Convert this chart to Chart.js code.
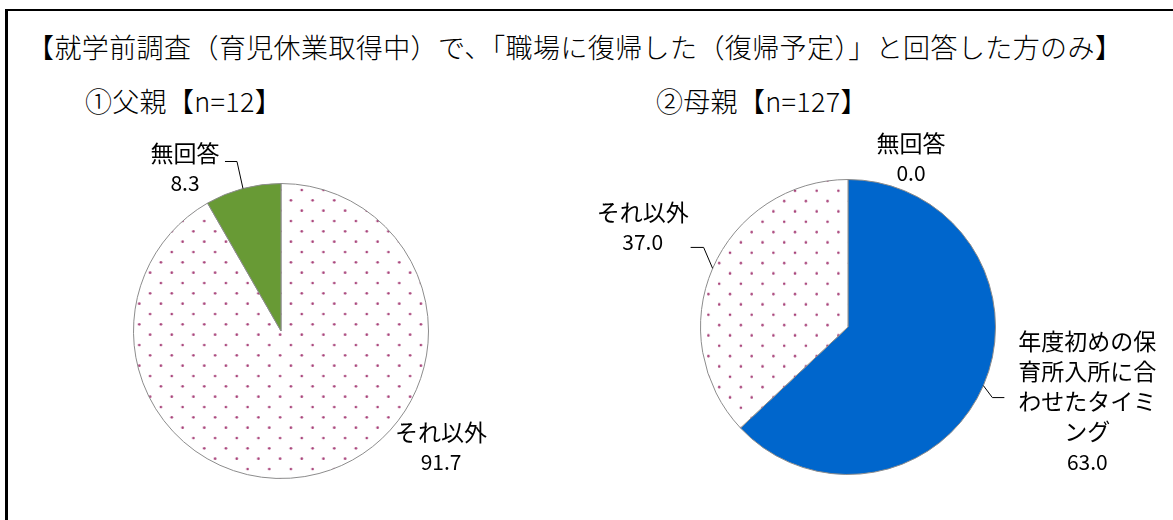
<!DOCTYPE html>
<html>
<head>
<meta charset="utf-8">
<script src="https://cdn.jsdelivr.net/npm/chart.js@4.4.1/dist/chart.umd.min.js"></script>
<style>
html,body{margin:0;padding:0;background:#fff;}
#wrap{position:relative;width:1173px;height:520px;overflow:hidden;font-family:"Noto Sans CJK JP","Noto Sans",sans-serif;}
#frame{position:absolute;left:5px;top:9px;width:1300px;height:700px;border-top:2px solid #000;border-left:3px solid #000;}
.txt{position:absolute;white-space:nowrap;color:#000;font-weight:300;}
canvas{position:absolute;left:0;top:0;}
</style>
</head>
<body>
<div id="wrap">
  <div id="frame"></div>
  <div class="txt" id="title" style="left:27px;top:29px;font-size:27px;letter-spacing:0.4px;line-height:36px;"></div>
  <div class="txt" id="sub1" style="left:85px;top:83px;font-size:27px;letter-spacing:0.3px;line-height:36px;"></div>
  <div class="txt" id="sub2" style="left:656px;top:83px;font-size:27px;letter-spacing:0.3px;line-height:36px;"></div>
  <canvas id="c1" width="1173" height="520" style="width:1173px;height:520px"></canvas>
  <canvas id="c2" width="1173" height="520" style="width:1173px;height:520px"></canvas>
</div>
<script>
// ---- data ----
const chartTitle = '【就学前調査（育児休業取得中）で、「職場に復帰した（復帰予定）」と回答した方のみ】';
const fatherTitle = '①父親【n=12】';
const motherTitle = '②母親【n=127】';
const fatherCategories = ['それ以外', '無回答'];
const fatherValues = [91.7, 8.3];
const motherCategories = ['年度初めの保育所入所に合わせたタイミング', 'それ以外', '無回答'];
const motherValues = [63.0, 37.0, 0.0];

document.getElementById('title').textContent = chartTitle;
document.getElementById('sub1').textContent = fatherTitle;
document.getElementById('sub2').textContent = motherTitle;

// ---- dotted pattern ----
function makeDots(x0, y0) {
  const W = 65, H = 62, cw = W / 3, rh = H / 6;
  const t = document.createElement('canvas');
  t.width = W; t.height = H;
  const g = t.getContext('2d');
  g.fillStyle = '#ffffff';
  g.fillRect(0, 0, W, H);
  g.fillStyle = '#a8437a';
  for (let r = 0; r < 6; r++) {
    for (let c = 0; c < 3; c++) {
      const x = 5 + c * cw + (r % 2 ? cw / 2 : 0);
      const y = 5 + r * rh;
      g.beginPath(); g.arc(x, y, 1.3, 0, Math.PI * 2); g.fill();
    }
  }
  const p = document.createElement('canvas').getContext('2d').createPattern(t, 'repeat');
  p.setTransform(new DOMMatrix().translate(x0 - 5, y0 - 5));
  return p;
}

// ---- label plugin ----
function wrapText(s, n) {
  if (!n) return [s];
  const out = [];
  const chars = Array.from(s);
  for (let i = 0; i < chars.length; i += n) out.push(chars.slice(i, i + n).join(''));
  return out;
}
const sliceLabels = {
  id: 'sliceLabels',
  afterDatasetsDraw(chart, args, opts) {
    const ctx = chart.ctx;
    const meta = chart.getDatasetMeta(0);
    const ds = chart.data.datasets[0];
    meta.data.forEach((arc, i) => {
      const cfg = opts.place[i];
      if (!cfg) return;
      const mid = (arc.startAngle + arc.endAngle) / 2;
      const ex = arc.x + Math.cos(mid) * arc.outerRadius;
      const ey = arc.y + Math.sin(mid) * arc.outerRadius;
      ctx.save();
      if (cfg.leader) {
        ctx.strokeStyle = '#000'; ctx.lineWidth = 1;
        ctx.beginPath(); ctx.moveTo(ex, ey);
        cfg.leader.forEach(p => ctx.lineTo(ex + p[0], ey + p[1]));
        ctx.stroke();
      }
      const names = wrapText(chart.data.labels[i], cfg.wrap);
      const lines = names.map(t => ({t, f: opts.nameFont}));
      lines.push({t: ds.data[i].toFixed(1), f: opts.valueFont});
      ctx.fillStyle = '#000';
      ctx.textAlign = 'center';
      ctx.textBaseline = 'middle';
      lines.forEach((l, k) => {
        ctx.font = l.f;
        ctx.fillText(l.t, ex + cfg.dx, ey + cfg.dy + k * opts.lineHeight);
      });
      ctx.restore();
    });
  }
};

function makePie(id, labels, values, colors, pad, place) {
  return new Chart(document.getElementById(id), {
    type: 'pie',
    data: {labels, datasets: [{data: values, backgroundColor: colors, borderColor: '#8c8c8c', borderWidth: 1}]},
    options: {
      responsive: false, animation: false, events: [],
      layout: {padding: pad},
      plugins: {
        legend: {display: false}, tooltip: {enabled: false}, title: {display: false},
        sliceLabels: {place, nameFont: '23px "Noto Sans CJK JP"', valueFont: '21px "Noto Sans CJK JP"', lineHeight: 30}
      }
    },
    plugins: [sliceLabels]
  });
}

makePie('c1', fatherCategories, fatherValues,
  [makeDots(301.7, 190), '#689a35'],
  {left: 133, right: 744, top: 183, bottom: 41},
  [
    {dx: 122, dy: -41},
    {dx: -58, dy: -35, leader: [[-6, -27], [-18, -27]]}
  ]);

makePie('c2', motherCategories, motherValues,
  ['#0066cc', makeDots(795, 190.7), '#a5a5a5'],
  {left: 700, right: 177, top: 179, bottom: 45},
  [
    {dx: 104, dy: -44, wrap: 6, leader: [[9, 12], [21, 12]]},
    {dx: -70, dy: -56, leader: [[-9, -21], [-22, -21]]},
    {dx: 63, dy: -36}
  ]);
</script>
</body>
</html>
